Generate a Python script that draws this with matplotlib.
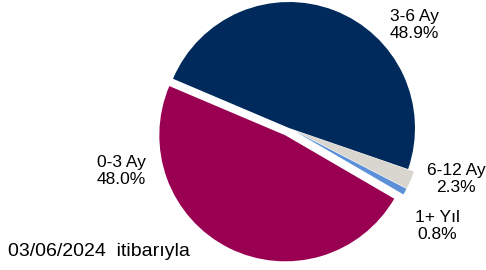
import matplotlib.pyplot as plt

plt.rcParams['font.family'] = ['Liberation Sans', 'DejaVu Sans']

labels = ["3-6 Ay", "6-12 Ay", "1+ Yıl", "0-3 Ay"]
shares = [48.9, 2.3, 0.8, 48.0]
colors = ["#002a5c", "#d9d5cf", "#5b8fd8", "#990052"]
explode = [0.0, 0.05, 0.05, 0.065]

# label positions in pixels (x from left, y from top)
label_px = [(414, 25), (456, 179), (437, 226), (121, 171)]

W, H = 486, 270
fig = plt.figure(figsize=(W / 100, H / 100), dpi=100)
ax = fig.add_axes([0, 0, 1, 1])

cx, cy, r = 289, 128, 126
ax.pie(shares, colors=colors, explode=explode, startangle=157,
       counterclock=False, radius=1,
       wedgeprops=dict(linewidth=0))
ax.set_aspect('auto')
ax.set_xlim(-cx / r, (W - cx) / r)
ax.set_ylim(-(H - cy) / r, cy / r)
ax.axis('off')

for lab, val, (px, py) in zip(labels, shares, label_px):
    fig.text(px / W, 1 - py / H, f"{lab}\n{val:.1f}%", ha='center', va='center',
             multialignment='center', fontsize=12.5, color='black', linespacing=1.15)

fig.text(8 / W, 14 / H, "03/06/2024  itibarıyla", ha='left', va='baseline',
         fontsize=14, color='black')

fig.savefig("out.png", dpi=100)
